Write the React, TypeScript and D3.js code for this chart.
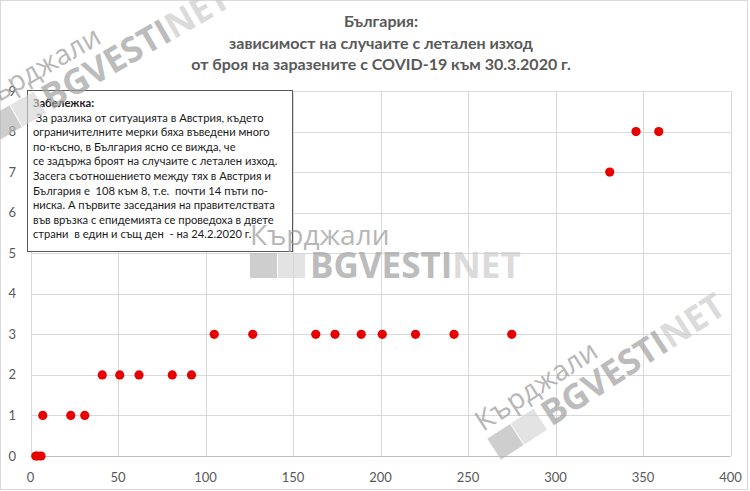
import { useEffect, useRef } from 'react';
import * as d3 from 'd3';

const cases = [3, 4, 6, 7, 23, 31, 41, 51, 62, 81, 92, 105, 127, 163, 174, 189, 201, 220, 242, 275, 331, 346, 359];
const deaths = [0, 0, 0, 1, 1, 1, 2, 2, 2, 2, 2, 3, 3, 3, 3, 3, 3, 3, 3, 3, 7, 8, 8];
const xTicks = [0, 50, 100, 150, 200, 250, 300, 350, 400];
const yTicks = [0, 1, 2, 3, 4, 5, 6, 7, 8, 9];

const titleLines = [
  'България:',
  'зависимост на случаите с летален изход',
  'от броя на заразените с COVID-19 към 30.3.2020 г.',
];

const noteLines = [
  'Забележка:',
  ' За разлика от ситуацията в Австрия, където',
  'ограничителните мерки бяха въведени много',
  'по-късно, в България ясно се вижда, че',
  'се задържа броят на случаите с летален изход.',
  'Засега съотношението между тях в Австрия и',
  'България е  108 към 8, т.е.  почти 14 пъти по-',
  'ниска. А първите заседания на правителствата',
  'във връзка с епидемията се проведоха в двете',
  'страни  в един и същ ден  - на 24.2.2020 г.',
];

const W = 750;
const H = 491;
const FONT = 'Lato, "Open Sans", sans-serif';

// watermark drawn in local coords, then placed/rotated
function Watermark({ tx, ty, angle }: { tx: number; ty: number; angle: number }) {
  return (
    <g transform={`translate(${tx},${ty}) rotate(${angle})`} style={{ pointerEvents: 'none' }}>
      <text x={0} y={0} fontFamily='"Open Sans", sans-serif' fontSize={28} fill='#999' opacity={0.7}>
        Кърджали
      </text>
      <rect x={0} y={8} width={27} height={25} fill='#b4b4b4' opacity={0.65} />
      <rect x={28} y={8} width={27} height={25} fill='#d4d4d4' opacity={0.65} />
      <text x={60} y={33} fontFamily='"Open Sans", sans-serif' fontWeight={700} fontSize={35}>
        <tspan fill='#a0a0a0' opacity={0.7}>BGVESTI</tspan>
        <tspan fill='#cccccc' opacity={0.7}>NET</tspan>
      </text>
    </g>
  );
}

export default function App() {
  const gRef = useRef<SVGGElement>(null);

  const x = d3.scaleLinear().domain([0, 400]).range([30.5, 730.5]);
  const y = d3.scaleLinear().domain([0, 9]).range([456, 91]);

  useEffect(() => {
    const g = d3.select(gRef.current);
    g.selectAll('*').remove();

    // grid
    g.append('g')
      .selectAll('line')
      .data(yTicks.slice(1))
      .join('line')
      .attr('x1', x(0))
      .attr('x2', x(400))
      .attr('y1', (d) => Math.round(y(d)) + 0.5)
      .attr('y2', (d) => Math.round(y(d)) + 0.5)
      .attr('stroke', '#d9d9d9');
    g.append('g')
      .selectAll('line')
      .data(xTicks)
      .join('line')
      .attr('x1', (d) => Math.round(x(d)) + 0.5)
      .attr('x2', (d) => Math.round(x(d)) + 0.5)
      .attr('y1', y(9))
      .attr('y2', y(0))
      .attr('stroke', '#d9d9d9');
    // x axis line
    g.append('line')
      .attr('x1', x(0))
      .attr('x2', x(400))
      .attr('y1', Math.round(y(0)) + 0.5)
      .attr('y2', Math.round(y(0)) + 0.5)
      .attr('stroke', '#bfbfbf');

    // tick labels
    g.append('g')
      .selectAll('text')
      .data(yTicks)
      .join('text')
      .attr('x', 16)
      .attr('y', (d) => y(d))
      .attr('dy', '0.35em')
      .attr('text-anchor', 'end')
      .attr('font-family', FONT)
      .attr('font-size', 13)
      .attr('fill', '#595959')
      .text((d) => d);
    g.append('g')
      .selectAll('text')
      .data(xTicks)
      .join('text')
      .attr('x', (d) => x(d))
      .attr('y', 477)
      .attr('dy', '0.35em')
      .attr('text-anchor', 'middle')
      .attr('font-family', FONT)
      .attr('font-size', 13)
      .attr('fill', '#595959')
      .text((d) => d);

    // points
    g.append('g')
      .selectAll('circle')
      .data(cases.map((c, i) => [c, deaths[i]]))
      .join('circle')
      .attr('cx', (d) => x(d[0]))
      .attr('cy', (d) => y(d[1]))
      .attr('r', 4.6)
      .attr('fill', '#e60000');
  }, []); // eslint-disable-line react-hooks/exhaustive-deps

  return (
    <svg
      width={W}
      height={H}
      viewBox={`0 0 ${W} ${H}`}
      style={{ position: 'absolute', left: 0, top: 0, background: '#fff' }}
    >
      <rect x={0.5} y={0.5} width={747} height={489} fill='#fff' stroke='#d9d9d9' />

      {/* title */}
      <g fontFamily={FONT} fontWeight={700} fontSize={16} fill='#595959' textAnchor='middle'>
        {titleLines.map((t, i) => (
          <text key={i} x={381} y={27 + i * 21.5}>
            {t}
          </text>
        ))}
      </g>

      <g ref={gRef} />

      {/* note box */}
      <rect x={27.5} y={90.5} width={265} height={161} fill='#fff' stroke='#595959' />
      <g fontFamily={FONT} fontSize={11.2} fill='#1a1a1a'>
        {noteLines.map((t, i) => (
          <text key={i} x={33} y={107 + i * 14.6} fontWeight={i === 0 ? 700 : 400} xmlSpace='preserve'>
            {t}
          </text>
        ))}
      </g>

      <Watermark tx={-18} ty={112} angle={-30} />
      <Watermark tx={250} ty={245} angle={0} />
      <Watermark tx={483} ty={432} angle={-33} />
    </svg>
  );
}
